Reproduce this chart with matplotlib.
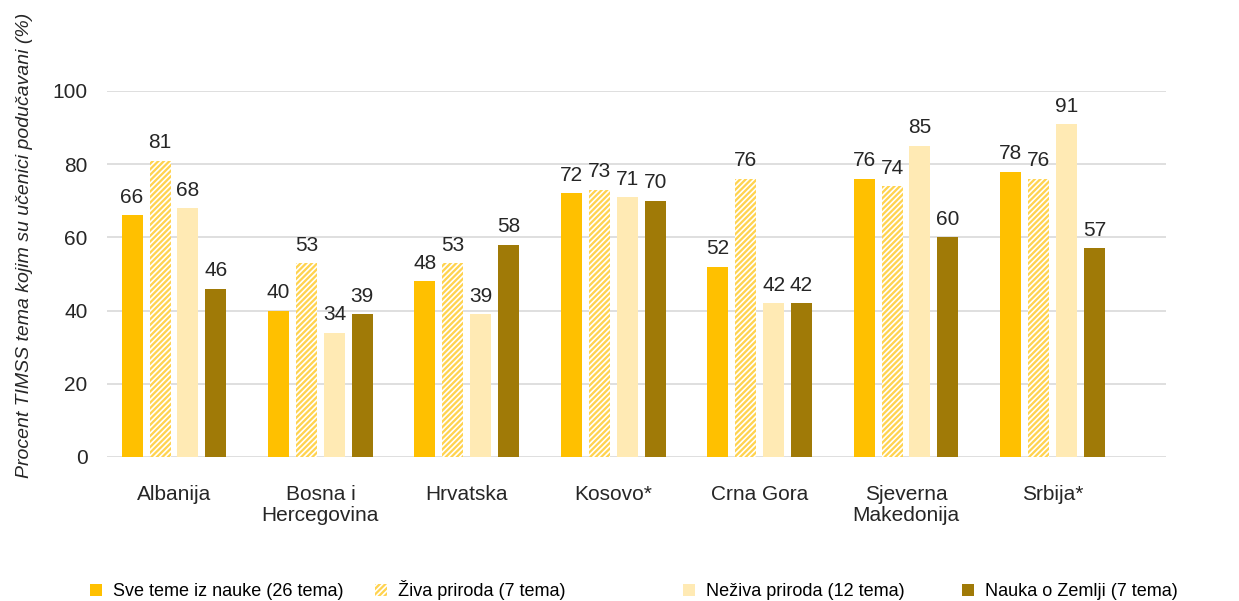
import matplotlib.pyplot as plt
import numpy as np

plt.rcParams['font.family'] = ['Liberation Sans', 'DejaVu Sans']
plt.rcParams['hatch.linewidth'] = 1.2

countries = ['Albanija', 'Bosna i\nHercegovina', 'Hrvatska', 'Kosovo*',
             'Crna Gora', 'Sjeverna\nMakedonija', 'Srbija*']
series_names = ['Sve teme iz nauke (26 tema)', 'Živa priroda (7 tema)',
                'Neživa priroda (12 tema)', 'Nauka o Zemlji (7 tema)']
sve_teme = [66, 40, 48, 72, 52, 76, 78]
ziva = [81, 53, 53, 73, 76, 74, 76]
neziva = [68, 34, 39, 71, 42, 85, 91]
zemlja = [46, 39, 58, 70, 42, 60, 57]

colors = ['#FFC000', '#FFD34F', '#FFEAB4', '#A07A07']
hatches = [None, '//////', None, None]
# legend entry anchors, figure pixels (Ž makes its text box taller)
legend_x = [90, 375, 683, 962]
legend_y = [592, 590, 592, 592]

fig = plt.figure(figsize=(12.39, 6.01), dpi=100)
ax = fig.add_axes([107 / 1239, 1 - 457 / 601, (1166 - 107) / 1239, 366 / 601])

x = np.arange(len(countries))
width = 0.1434
step = 0.191
handles = []
for i, vals in enumerate([sve_teme, ziva, neziva, zemlja]):
    pos = x + (i - 1.5) * step
    b = ax.bar(pos, vals, width, color=colors[i], label=series_names[i],
               hatch=hatches[i], edgecolor='white' if hatches[i] else colors[i],
               linewidth=0, zorder=3)
    handles.append(b)
    for p, v in zip(pos, vals):
        ax.text(p, v + 2.3, str(v), ha='center', va='bottom', fontsize=15,
                color='#262626', clip_on=False)

ax.set_ylim(0, 100)
ax.set_xlim(-0.4577, 6.776)
ax.set_yticks(range(0, 101, 20))
ax.yaxis.grid(True, color='#D9D9D9', linewidth=1.2, zorder=0)
ax.set_axisbelow(True)
for s in ax.spines.values():
    s.set_visible(False)
ax.tick_params(axis='both', length=0, labelsize=15, labelcolor='#262626')
ax.tick_params(axis='y', pad=14)
ax.tick_params(axis='x', pad=20)
ax.set_xticks(x)
ax.set_xticklabels(countries, linespacing=1.15)
ax.set_ylabel('Procent TIMSS tema kojim su učenici podučavani (%)',
              fontstyle='italic', fontsize=14, color='#262626')
ax.yaxis.set_label_coords(-0.070, 0.579)

for i in range(4):
    fig.legend([handles[i]], [series_names[i]], loc='center left',
               bbox_to_anchor=(legend_x[i] / 1239, 1 - legend_y[i] / 601),
               frameon=False, fontsize=13, handlelength=0.67,
               handleheight=0.67, handletextpad=0.6, borderpad=0,
               borderaxespad=0)

fig.savefig('out.png', dpi=100)
